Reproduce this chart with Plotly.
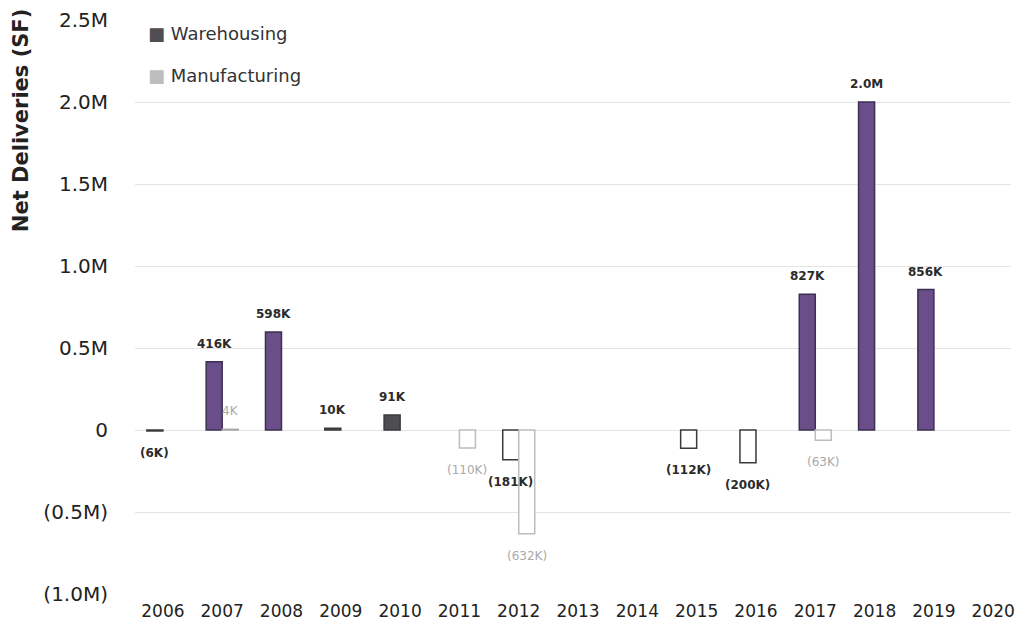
import plotly.graph_objects as go

years = list(range(2006, 2021))

# Net deliveries in square feet (None = no deliveries that year)
warehousing = [-6000, 416000, 598000, 10000, 91000, None, -181000, None, None,
               -112000, -200000, 827000, 2000000, 856000, None]
manufacturing = [None, 4000, None, None, None, -110000, -632000, None, None,
                 None, None, -63000, None, None, None]

y_tickvals = [-1000000, -500000, 0, 500000, 1000000, 1500000, 2000000, 2500000]
y_ticktext = ["(1.0M)", "(0.5M)", "0", "0.5M", "1.0M", "1.5M", "2.0M", "2.5M"]

PURPLE = "#6a4e8a"
DARK = "#4d4d52"
LIGHT = "#bdbdbd"
FONT = "DejaVu Sans"
BAR_W = 0.27


def fmt(v):
    a = abs(v)
    s = f"{a / 1e6:.1f}M" if a >= 1e6 else f"{round(a / 1000)}K"
    return f"({s})" if v < 0 else s


def wh_style(y, v):
    if v is None:
        return "rgba(0,0,0,0)", "rgba(0,0,0,0)"
    if v < 0:
        return "white", "#3a3a3a"
    if y in (2009, 2010):
        return DARK, "#3a3a3a"
    return PURPLE, "#3d2f52"


def mf_style(v):
    if v is None:
        return "rgba(0,0,0,0)", "rgba(0,0,0,0)"
    if v < 0:
        return "white", LIGHT
    return LIGHT, "#a8a8a8"


wh_fill, wh_line = zip(*[wh_style(y, v) for y, v in zip(years, warehousing)])
mf_fill, mf_line = zip(*[mf_style(v) for v in manufacturing])

fig = go.Figure()
fig.add_trace(go.Bar(
    x=years, y=warehousing, name="Warehousing",
    width=BAR_W, offset=-BAR_W,
    marker=dict(color=list(wh_fill), line=dict(color=list(wh_line), width=1.5)),
    showlegend=False, hoverinfo="skip",
))
fig.add_trace(go.Bar(
    x=years, y=manufacturing, name="Manufacturing",
    width=BAR_W, offset=0,
    marker=dict(color=list(mf_fill), line=dict(color=list(mf_line), width=1.5)),
    showlegend=False, hoverinfo="skip",
))

# value labels above / below each bar
for y, v in zip(years, warehousing):
    if v is None:
        continue
    fig.add_annotation(
        x=y - BAR_W / 2, y=v, text=f"<b>{fmt(v)}</b>", showarrow=False,
        yanchor="bottom" if v >= 0 else "top", yshift=9 if v >= 0 else -13,
        font=dict(family=FONT, size=12, color="#2b2b2b"),
    )
for y, v in zip(years, manufacturing):
    if v is None:
        continue
    fig.add_annotation(
        x=y + BAR_W / 2, y=v, text=fmt(v), showarrow=False,
        yanchor="bottom" if v >= 0 else "top", yshift=9 if v >= 0 else -13,
        font=dict(family=FONT, size=12, color="#a9a9a9"),
    )

# legend
legend_items = [("Warehousing", DARK, 0.977), ("Manufacturing", LIGHT, 0.904)]
for name, col, ypos in legend_items:
    fig.add_annotation(
        xref="paper", yref="paper", x=0.013, y=ypos, xanchor="left", yanchor="middle",
        text=f"<span style='color:{col}'>■</span> {name}", showarrow=False,
        font=dict(family=FONT, size=18, color="#333333"),
    )

# y-axis title
fig.add_annotation(
    xref="paper", yref="paper", x=-0.13, y=0.824, xanchor="center", yanchor="middle",
    text="<b>Net Deliveries (SF)</b>", textangle=-90, showarrow=False,
    font=dict(family=FONT, size=21, color="#222222"),
)

fig.update_layout(
    width=1015, height=629,
    margin=dict(l=135, r=0, t=20, b=35),
    paper_bgcolor="white", plot_bgcolor="white",
    barmode="overlay",
    font=dict(family=FONT, color="#222222"),
    xaxis=dict(
        range=[2005.53, 2020.3], tickmode="array", tickvals=years,
        ticktext=[str(y) for y in years], showgrid=False, zeroline=False,
        showline=False, ticks="", tickfont=dict(size=17, color="#222222"),
        ticklabelstandoff=5, ticklabeloverflow="allow",
    ),
    yaxis=dict(
        range=[-1000000, 2500000], tickmode="array", tickvals=y_tickvals,
        ticktext=y_ticktext, showgrid=True, gridcolor="#e4e4e4", gridwidth=1,
        zeroline=False, showline=False, ticks="",
        tickfont=dict(size=20, color="#222222"), ticklabelstandoff=26,
    ),
)

fig.write_html("out.html")
